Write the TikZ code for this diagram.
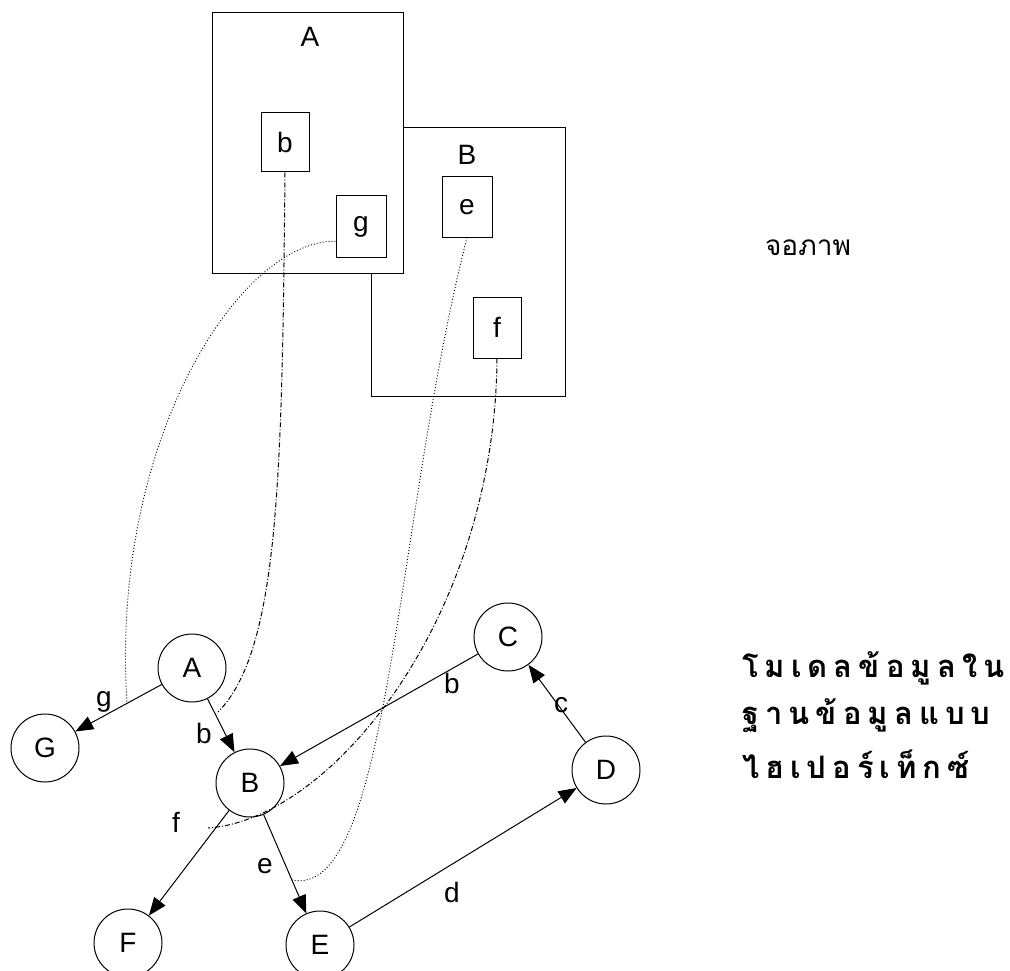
\documentclass[tikz,border=0pt]{standalone}
\usepackage{fontspec}
\setmainfont{Liberation Sans}
\newfontfamily\thaifont[Script=Thai]{Loma}
\usetikzlibrary{arrows.meta}
\newcommand{\tsp}{\hspace{6pt}}
\begin{document}
\begin{tikzpicture}[x=1pt,y=-1pt,
  frame/.style={draw, line width=1pt, fill=white, inner sep=0pt},
  lbl/.style={font=\fontsize{28}{32}\selectfont, inner sep=0pt},
  gnode/.style={draw, circle, line width=1pt, minimum size=68pt, inner sep=0pt, font=\fontsize{28}{32}\selectfont},
  arr/.style={line width=1pt, -{Triangle[length=18pt,width=14pt]}},
  dotc/.style={line width=0.9pt, dash pattern=on 1pt off 2pt},
  dashdotc/.style={line width=1pt, dash pattern=on 5pt off 2pt on 1pt off 2pt},
  thai/.style={font=\thaifont\bfseries\fontsize{31}{37}\selectfont, inner sep=0pt, anchor=west}
]
\useasboundingbox (0,0) rectangle (1010,971);
% screen frames
\node[frame, minimum width=194pt, minimum height=268pt] (frameB) at (468,262) {};
\node[frame, minimum width=191pt, minimum height=260pt] (frameA) at (307.5,143) {};
\node[lbl] (tA) at (310,37) {A};
\node[lbl] (tB) at (467,155) {B};
\node[frame, minimum width=48pt, minimum height=59pt, font=\fontsize{28}{32}\selectfont] (bb) at (285,142.5) {b};
\node[frame, minimum width=50pt, minimum height=61pt, font=\fontsize{28}{32}\selectfont] (gb) at (361,226.5) {g};
\node[frame, minimum width=50pt, minimum height=60pt, font=\fontsize{28}{32}\selectfont] (eb) at (467,207) {e};
\node[frame, minimum width=48pt, minimum height=61pt, font=\fontsize{28}{32}\selectfont] (fb) at (497,327.5) {f};
\node[font=\thaifont\fontsize{28}{32}\selectfont, inner sep=0pt] (screen) at (808,248) {จอภาพ};
% graph
\node[gnode] (A) at (192,668) {A};
\node[gnode] (G) at (45,748) {G};
\node[gnode] (B) at (250,783) {B};
\node[gnode] (C) at (508,637) {C};
\node[gnode] (D) at (606,770) {D};
\node[gnode] (E) at (320,945) {E};
\node[gnode] (F) at (128,943) {F};
\draw[arr] (A) -- (G);
\draw[arr] (A) -- (B);
\draw[arr] (C) -- (B);
\draw[arr] (D) -- (C);
\draw[arr] (B) -- (F);
\draw[arr] (B) -- (E);
\draw[arr] (E) -- (D);
\node[lbl] (lg) at (104,702) {g};
\node[lbl] (lb1) at (204,733) {b};
\node[lbl] (lb2) at (452,683) {b};
\node[lbl] (lc) at (561,705) {c};
\node[lbl] (lf) at (176,822) {f};
\node[lbl] (le) at (265,866) {e};
\node[lbl] (ld) at (452,892) {d};
% mapping curves
\coordinate (gEnd) at (127,703);
\coordinate (bEnd) at (218,712);
\coordinate (eEnd) at (292,880);
\coordinate (fEnd) at (208,828);
\draw[dotc] (gb.210) .. controls (240,240) and (110,440) .. (gEnd);
\draw[dashdotc] (bb.south) .. controls (282,470) and (280,650) .. (bEnd);
\draw[dotc] (eb.south) .. controls (395,520) and (390,900) .. (eEnd);
\draw[dashdotc] (fb.south) .. controls (495,620) and (330,820) .. (fEnd);
% Thai caption
\node[thai] (t1) at (742,668) {โ\tsp ม\tsp เ\tsp ด\tsp ล\tsp ข้\tsp อ\tsp มู\tsp ล\tsp ใ\tsp น};
\node[thai] (t2) at (742,716) {ฐ\tsp า\tsp น\tsp ข้\tsp อ\tsp มู\tsp ล\tsp แ\tsp บ\tsp บ};
\node[thai] (t3) at (742,764) {ไ\tsp ฮ\tsp เ\tsp ป\tsp อ\tsp ร์\tsp เ\tsp ท็\tsp ก\tsp ซ์};
\end{tikzpicture}
\end{document}
